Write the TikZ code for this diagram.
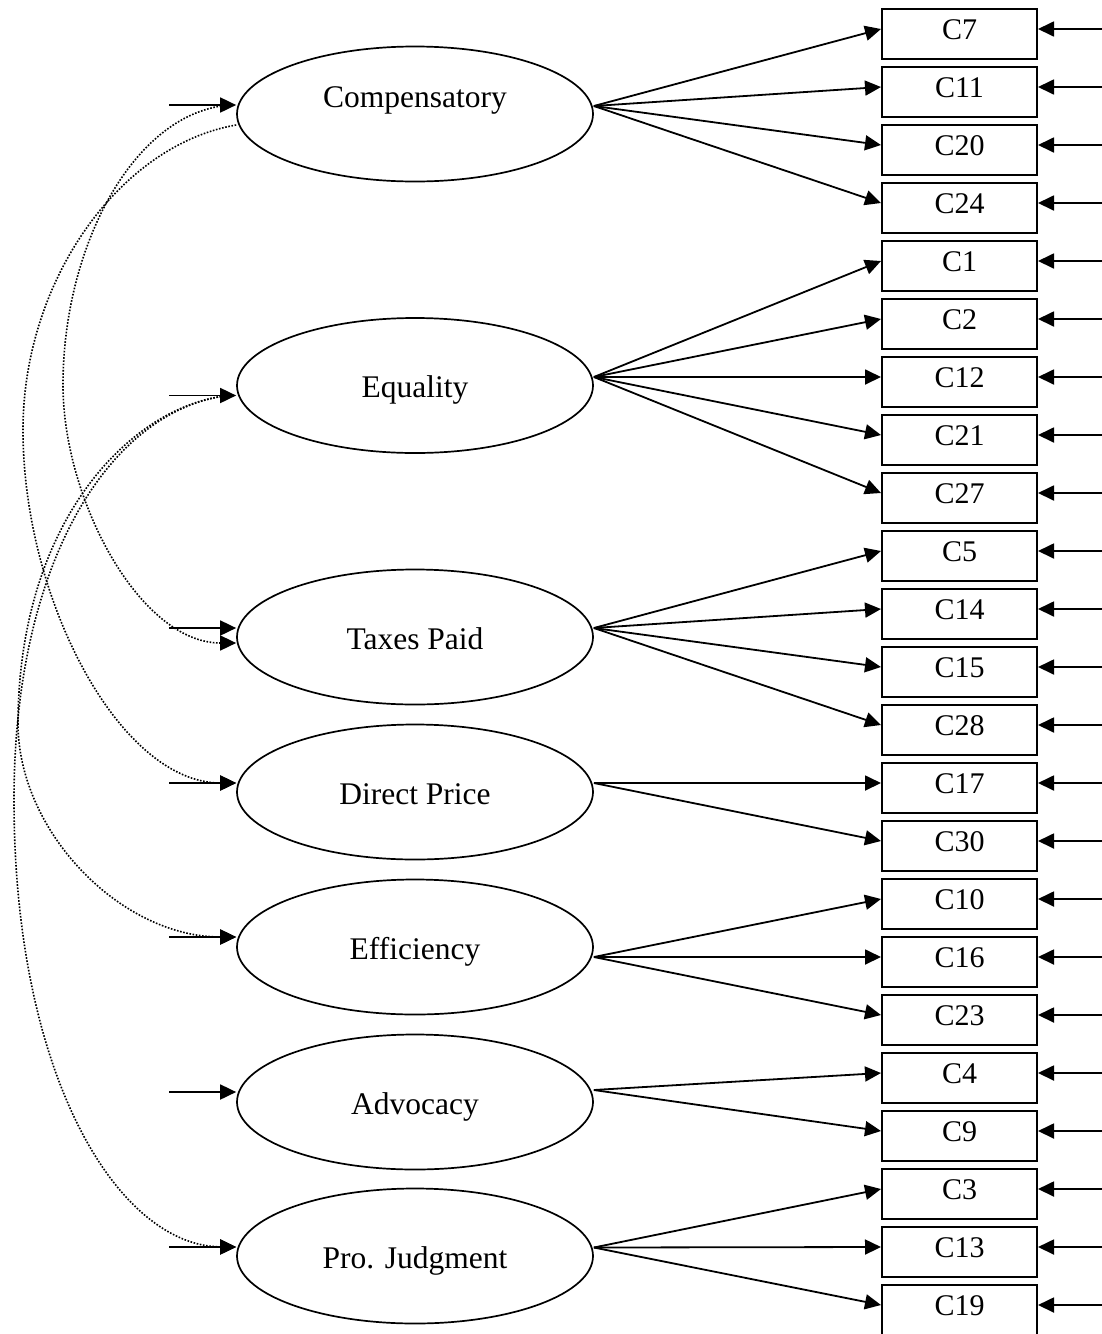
\documentclass[tikz,border=0pt]{standalone}
\usepackage{fontspec}
\setmainfont{Liberation Serif}
\usetikzlibrary{arrows.meta,shapes.geometric}

\begin{document}
\begin{tikzpicture}[x=1pt,y=-1pt,
    latent/.style={draw, ellipse, line width=1.7pt, minimum width=356pt, minimum height=135pt,
      font=\fontsize{31.5}{36}\selectfont, text height=24pt, text depth=0pt},
    item/.style={draw, rectangle, line width=2pt, minimum width=155pt, minimum height=50pt,
      font=\fontsize{30}{34}\selectfont, text height=20pt, text depth=9pt},
    arr/.style={line width=1.8pt, -{Triangle[length=16pt,width=15pt]}},
    cov/.style={line width=1.6pt, dash pattern=on 1.6pt off 1.6pt, -{Triangle[length=16pt,width=15pt]}}]

  \useasboundingbox (0,0) rectangle (1102,1334);

  \node[latent, text height=22pt, text depth=35pt] (cmp) at (415,114) {Compensatory};
  \node[latent] (equ) at (415,385.5) {Equality};
  \node[latent] (tax) at (415,637) {Taxes Paid};
  \node[latent] (dpr) at (415,792) {Direct Price};
  \node[latent] (eff) at (415,947) {Efficiency};
  \node[latent] (adv) at (415,1102) {Advocacy};
  \node[latent] (pro) at (415,1256) {Pro. Judgment};

  \foreach \c [count=\i from 0] in {C7,C11,C20,C24,C1,C2,C12,C21,C27,C5,C14,C15,C28,C17,C30,C10,C16,C23,C4,C9,C3,C13,C19} {
    \node[item] (\c) at (959.5,{34+58*\i}) {\c};
    \coordinate (e\c) at (1102,{29+58*\i});
    \draw[arr] (e\c) -- ([yshift=5pt]\c.east);
  }

  \foreach \f/\dy in {cmp/9,equ/-10,tax/9,dpr/9,eff/10,adv/10,pro/9} {
    \coordinate (d\f) at ([xshift=-67pt,yshift=\dy pt]\f.west);
    \draw[arr] (d\f) -- ([yshift=\dy pt]\f.west);
  }

  \foreach \f/\dy in {cmp/8,equ/8.5,tax/9,dpr/9,eff/-10,adv/12,pro/8.5}
    \coordinate (h\f) at ([yshift=\dy pt]\f.east);

  \foreach \f/\c in {cmp/C7,cmp/C11,cmp/C20,cmp/C24,equ/C1,equ/C2,equ/C12,equ/C21,equ/C27,
      tax/C5,tax/C14,tax/C15,tax/C28,dpr/C17,dpr/C30,eff/C10,eff/C16,eff/C23,adv/C4,adv/C9,
      pro/C3,pro/C13,pro/C19}
    \draw[arr] (h\f) -- ([yshift=5pt]\c.west);

  \draw[cov] ([xshift=-15pt,yshift=8pt]cmp.west) .. controls (130,120) and (63,250) .. (63,385)
    .. controls (63,500) and (140,643) .. ([yshift=-6pt]tax.west);
  \draw[cov] ([yshift=-11pt]cmp.west) .. controls (120,145) and (23,280) .. (23,430)
    .. controls (23,600) and (120,783) .. ([yshift=9pt]dpr.west);
  \draw[cov] ([xshift=-15pt,yshift=-11pt]equ.west) .. controls (130,410) and (20,520) .. (18,720)
    .. controls (16,830) and (120,937) .. ([yshift=10pt]eff.west);
  \draw[cov] ([xshift=-15pt,yshift=-11pt]equ.west) .. controls (110,415) and (14,560) .. (14,800)
    .. controls (14,1080) and (120,1246) .. ([yshift=9pt]pro.west);
\end{tikzpicture}
\end{document}
